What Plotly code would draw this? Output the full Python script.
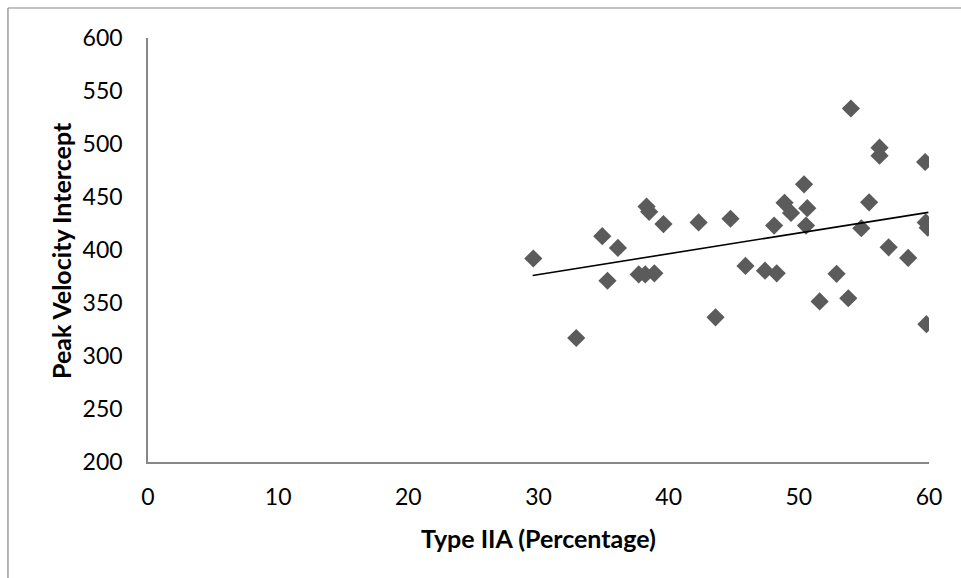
import plotly.graph_objects as go

# Data
type_iia = [29.6, 32.9, 34.9, 36.1, 35.3, 38.3, 38.5, 39.6, 37.7, 38.2, 38.9,
            42.3, 43.6, 44.75, 45.9, 47.4, 48.3, 48.1, 48.9, 49.4, 50.4, 50.65,
            50.55, 51.6, 52.9, 53.8, 54.0, 56.2, 56.2, 55.4, 54.8, 56.9, 58.4,
            59.7, 59.75, 59.9, 59.8]
peak_velocity = [392, 317, 413, 402, 371, 441, 436, 424.5, 377, 377, 378,
                 426, 336.5, 429.5, 385, 380.5, 378, 423, 444.5, 435, 462, 439.5,
                 423, 351.5, 377.5, 354.5, 533.5, 496.5, 489, 445, 420.5, 402.5, 392.5,
                 483, 426, 421, 330]

# Linear trendline end points
trend_x = [29.55, 59.95]
trend_y = [376.0, 435.5]

x_ticks = [0, 10, 20, 30, 40, 50, 60]
y_ticks = [200, 250, 300, 350, 400, 450, 500, 550, 600]

x_title = "Type IIA (Percentage)"
y_title = "Peak Velocity Intercept"

fig = go.Figure()
fig.add_trace(go.Scatter(
    x=type_iia, y=peak_velocity, mode="markers",
    marker=dict(symbol="diamond", size=14, color="#5b5b5b", line=dict(width=0)),
    showlegend=False, hoverinfo="skip"))
fig.add_trace(go.Scatter(
    x=trend_x, y=trend_y, mode="lines",
    line=dict(color="#000000", width=1.6),
    showlegend=False, hoverinfo="skip"))

axis_color = "#878787"
font_family = "Lato, 'Open Sans', sans-serif"

fig.update_layout(
    width=961, height=578,
    margin=dict(l=148, r=32, t=38, b=116),
    paper_bgcolor="white", plot_bgcolor="white",
    font=dict(family=font_family, size=23, color="#000000"),
    xaxis=dict(
        range=[0, 60], tickvals=x_ticks, ticktext=[str(v) for v in x_ticks],
        showgrid=False, zeroline=False, showline=True, linecolor=axis_color,
        linewidth=1.5, ticks="", ticklabelstandoff=14,
        tickfont=dict(size=23),
    ),
    yaxis=dict(
        range=[200, 600], tickvals=y_ticks, ticktext=[str(v) for v in y_ticks],
        showgrid=False, zeroline=False, showline=True, linecolor=axis_color,
        linewidth=1.5, ticks="", ticklabelstandoff=19,
        tickfont=dict(size=23),
    ),
    annotations=[
        dict(text="<b>" + x_title + "</b>", xref="paper", yref="paper",
             x=0.5, y=-0.179, xanchor="center", yanchor="middle",
             showarrow=False, font=dict(size=25)),
        dict(text="<b>" + y_title + "</b>", xref="paper", yref="paper",
             x=-0.1114, y=0.5, xanchor="center", yanchor="middle", textangle=-90,
             showarrow=False, font=dict(size=25)),
    ],
    shapes=[
        dict(type="line", xref="paper", yref="paper", x0=-0.1793, x1=-0.1793,
             y0=-0.4, y1=1.0708, line=dict(color=axis_color, width=1.2)),
        dict(type="line", xref="paper", yref="paper", x0=-0.1793, x1=1.1,
             y0=1.0708, y1=1.0708, line=dict(color=axis_color, width=1.2)),
    ],
)

fig.write_html("out.html")
